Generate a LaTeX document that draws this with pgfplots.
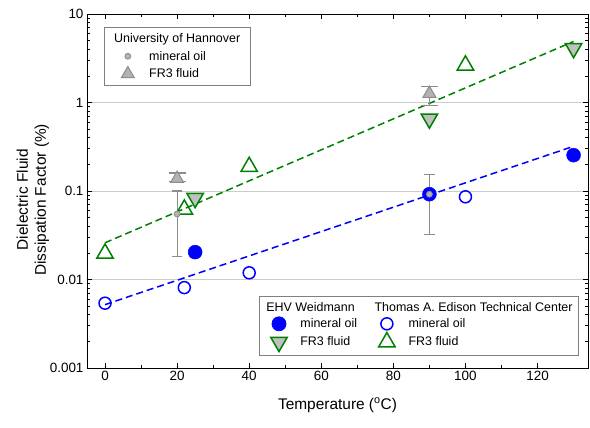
\documentclass[border=0pt]{standalone}
\usepackage{fontspec}
\setmainfont{Liberation Sans}
\usepackage{pgfplots}
\pgfplotsset{compat=1.18}
\definecolor{cblue}{RGB}{0,0,255}
\definecolor{cgreen}{RGB}{0,128,0}
\definecolor{cgrayfill}{RGB}{192,192,192}
\definecolor{hgray}{RGB}{178,178,178}
\definecolor{hedge}{RGB}{140,140,140}
\definecolor{gridc}{RGB}{204,204,204}
\tikzset{lgdbox/.style={draw=gray, line width=0.8bp, fill=white,
    font=\fontsize{12.5}{15}\selectfont, inner xsep=4bp, inner ysep=4bp,
    row sep=1.5bp}}
\pgfplotsset{wideimg/.style={legend image code/.code={%
  \path (0bp,-6bp) (34bp,6bp);
  \draw[mark repeat=2,mark phase=2,##1] plot coordinates {(0bp,0bp) (15bp,0bp) (30bp,0bp)};}}}
\begin{document}
\begin{tikzpicture}
\useasboundingbox (-87bp,-60bp) rectangle (503bp,368bp);
\begin{axis}[width=501bp, height=354bp, scale only axis,
  at={(0,0)}, anchor=south west,
  xmin=-5, xmax=134, ymode=log, ymin=0.001, ymax=10,
  xtick={0,20,...,120}, minor x tick num=1,
  log ticks with fixed point,
  ymajorgrids, major grid style={gridc, line width=0.8bp},
  tick align=inside, major tick length=5bp, minor tick length=3bp,
  every tick/.style={black, line width=0.6bp},
  axis line style={line width=0.8bp},
  ticklabel style={font=\fontsize{13.5}{16}\selectfont},
  /pgf/number format/assume math mode=true,
  xlabel={Temperature (\textsuperscript{o}C)},
  xlabel style={at={(axis description cs:0.5,-0.105)}, anchor=center, font=\fontsize{15.5}{18}\selectfont},
  ylabel={Dielectric Fluid\\Dissipation Factor (\%)},
  ylabel style={at={(axis description cs:-0.108,0.475)}, anchor=center, align=center, font=\fontsize{15.5}{18}\selectfont},
  wideimg,
  legend columns=2, legend cell align=left,
  legend style={lgdbox, at={(0.982,0.034)}, anchor=south east,
    /tikz/every even column/.append style={column sep=12bp}},
]
% fit lines
\addplot[cgreen, line width=1.5bp, dash pattern=on 7bp off 4bp, forget plot] coordinates {(0,0.026) (130,4.9)};
\addplot[cblue, line width=1.5bp, dash pattern=on 7bp off 4bp, forget plot] coordinates {(0,0.0052) (130,0.32)};
% EHV Weidmann mineral oil
\addplot[only marks, mark=*, mark size=7bp, cblue, forget plot] coordinates {(25,0.0204) (90,0.092) (130,0.254)};
% Edison mineral oil
\addplot[only marks, mark=o, mark size=6bp, cblue, line width=1.5bp, forget plot] coordinates {(0,0.0054) (22,0.0081) (40,0.0119) (100,0.086)};
% Edison FR3
\addplot[only marks, mark=triangle, mark size=9.5bp, cgreen, line width=1.5bp, forget plot] coordinates {(0,0.0197) (22,0.062) (40,0.188) (100,2.63)};
% Weidmann FR3
\addplot[only marks, mark=triangle*, mark size=9.5bp, mark options={rotate=180, fill=cgrayfill, draw=cgreen, line width=1.5bp}, forget plot] coordinates {(25,0.083) (90,0.655) (130,4.1)};
% Hannover mineral oil
\addplot[only marks, mark=*, mark size=3bp, mark options={fill=hgray, draw=hedge, line width=0.8bp}, forget plot,
  error bars/.cd, y dir=both, y explicit,
  error bar style={hedge, line width=1.2bp},
  error mark options={rotate=90, mark size=5.3bp, hedge, line width=1.2bp}]
  table[x=x, y=y, y error plus=ep, y error minus=em] {
x y ep em
20 0.055 0.045 0.0367
90 0.092 0.063 0.060
};
% Hannover FR3
\addplot[only marks, mark=triangle*, mark size=7.5bp, mark options={fill=hgray, draw=hedge, line width=1bp}, forget plot,
  error bars/.cd, y dir=both, y explicit,
  error bar style={hedge, line width=1.2bp},
  error mark options={rotate=90, mark size=8.5bp, hedge, line width=1.2bp}]
  table[x=x, y=y, y error plus=ep, y error minus=em] {
x y ep em
20 0.138 0.022 0.009
90 1.26 0.26 0.33
};
% legend
\addlegendimage{empty legend}
\addlegendentry{\hspace*{-34bp}EHV Weidmann}
\addlegendimage{empty legend}
\addlegendentry{\hspace*{-34bp}Thomas A. Edison Technical Center}
\addlegendimage{only marks, mark=*, mark size=7bp, cblue}
\addlegendentry{mineral oil}
\addlegendimage{only marks, mark=o, mark size=6bp, cblue, line width=1.5bp}
\addlegendentry{mineral oil}
\addlegendimage{only marks, mark=triangle*, mark size=9.5bp, mark options={rotate=180, fill=cgrayfill, draw=cgreen, line width=1.5bp}}
\addlegendentry{FR3 fluid}
\addlegendimage{only marks, mark=triangle, mark size=9.5bp, cgreen, line width=1.5bp}
\addlegendentry{FR3 fluid}
\end{axis}
\begin{axis}[width=501bp, height=354bp, scale only axis,
  at={(0,0)}, anchor=south west,
  xmin=-5, xmax=134, ymin=0, ymax=1, hide axis,
  wideimg,
  legend cell align=left,
  legend style={lgdbox, inner xsep=8bp, row sep=3bp, at={(0.034,0.963)}, anchor=north west}]
\addlegendimage{empty legend}
\addlegendentry{\hspace*{-35bp}University of Hannover}
\addlegendimage{only marks, mark=*, mark size=3bp, mark options={fill=hgray, draw=hedge, line width=0.8bp}}
\addlegendentry{mineral oil}
\addlegendimage{only marks, mark=triangle*, mark size=7.5bp, mark options={fill=hgray, draw=hedge, line width=1bp}}
\addlegendentry{FR3 fluid}
\end{axis}
\end{tikzpicture}
\end{document}
